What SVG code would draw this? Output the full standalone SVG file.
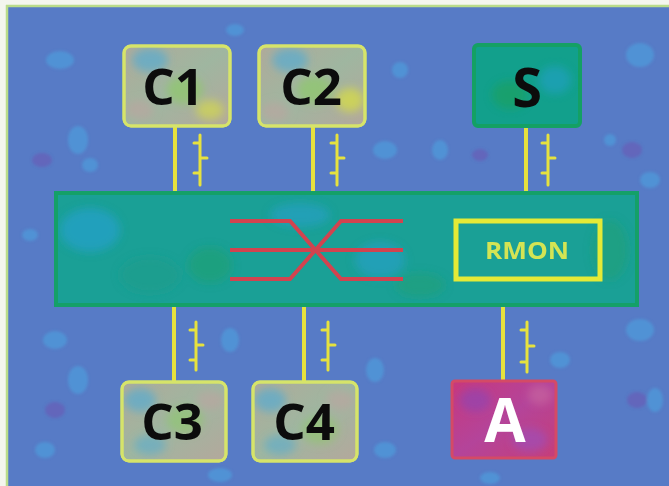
<svg xmlns="http://www.w3.org/2000/svg" width="669" height="486" viewBox="0 0 669 486">
  <defs>
    <style>
      .lbl { font-family: "Open Sans", "Liberation Sans", sans-serif; font-weight: bold; text-anchor: middle; }
      .cbox { stroke: #d6e46a; stroke-width: 3; }
      .link { stroke: #e6e23e; stroke-width: 4; fill: none; }
      .sym { stroke: #e6e23e; stroke-width: 3; fill: none; stroke-linecap: round; }
      .cross { stroke: #d2434f; stroke-width: 4; fill: none; }
      .blob { fill: #4aa6e2; opacity: 0.55; }
      .pblob { fill: #6a58b4; opacity: 0.6; }
    </style>
    <filter id="soft" x="-50%" y="-50%" width="200%" height="200%">
      <feGaussianBlur stdDeviation="4"/>
    </filter>
    <filter id="soft2" x="-50%" y="-50%" width="200%" height="200%">
      <feGaussianBlur stdDeviation="1.5"/>
    </filter>
    <linearGradient id="cfill" x1="0" y1="0" x2="1" y2="1">
      <stop offset="0" stop-color="#b0aa9a"/>
      <stop offset="0.5" stop-color="#9fb6a0"/>
      <stop offset="1" stop-color="#b4a89c"/>
    </linearGradient>
    <linearGradient id="afill" x1="0" y1="0" x2="1" y2="1">
      <stop offset="0" stop-color="#c8387c"/>
      <stop offset="0.5" stop-color="#b4449a"/>
      <stop offset="1" stop-color="#c63e78"/>
    </linearGradient>
    <clipPath id="clipC1"><rect x="124" y="46" width="106" height="80" rx="7"/></clipPath>
    <clipPath id="clipC2"><rect x="259" y="46" width="106" height="80" rx="7"/></clipPath>
    <clipPath id="clipC3"><rect x="122" y="382" width="104" height="79" rx="7"/></clipPath>
    <clipPath id="clipC4"><rect x="253" y="382" width="104" height="79" rx="7"/></clipPath>
    <clipPath id="clipA"><rect x="452" y="381" width="104" height="77" rx="3"/></clipPath>
    <clipPath id="clipBar"><rect x="56" y="193" width="581" height="112"/></clipPath>
  </defs>

  <!-- background -->
  <rect x="0" y="0" width="669" height="486" fill="#f4f6ee"/>
  <rect x="6" y="5" width="663" height="481" fill="#577bc6"/>
  <line x1="6" y1="6" x2="669" y2="6" stroke="#b9dc8a" stroke-width="2.5"/>
  <line x1="7" y1="5" x2="7" y2="486" stroke="#b9dc8a" stroke-width="2.5"/>
  <g id="texture" filter="url(#soft2)">
    <ellipse class="blob" cx="60" cy="60" rx="14" ry="9"/>
    <ellipse class="blob" cx="78" cy="140" rx="10" ry="14"/>
    <ellipse class="blob" cx="90" cy="165" rx="8" ry="7"/>
    <ellipse class="blob" cx="235" cy="30" rx="9" ry="6"/>
    <ellipse class="blob" cx="400" cy="70" rx="8" ry="8"/>
    <ellipse class="blob" cx="385" cy="150" rx="12" ry="9"/>
    <ellipse class="blob" cx="440" cy="150" rx="8" ry="10"/>
    <ellipse class="blob" cx="640" cy="55" rx="14" ry="12"/>
    <ellipse class="blob" cx="650" cy="180" rx="10" ry="8"/>
    <ellipse class="blob" cx="610" cy="140" rx="6" ry="6"/>
    <ellipse class="blob" cx="55" cy="340" rx="12" ry="9"/>
    <ellipse class="blob" cx="78" cy="380" rx="10" ry="14"/>
    <ellipse class="blob" cx="230" cy="340" rx="9" ry="12"/>
    <ellipse class="blob" cx="375" cy="370" rx="9" ry="12"/>
    <ellipse class="blob" cx="385" cy="450" rx="11" ry="8"/>
    <ellipse class="blob" cx="640" cy="330" rx="14" ry="11"/>
    <ellipse class="blob" cx="655" cy="400" rx="8" ry="12"/>
    <ellipse class="blob" cx="560" cy="360" rx="10" ry="8"/>
    <ellipse class="blob" cx="45" cy="450" rx="10" ry="8"/>
    <ellipse class="blob" cx="220" cy="475" rx="12" ry="7"/>
    <ellipse class="blob" cx="490" cy="478" rx="10" ry="6"/>
    <ellipse class="blob" cx="30" cy="235" rx="8" ry="6"/>
    <ellipse class="pblob" cx="42" cy="160" rx="10" ry="7"/>
    <ellipse class="pblob" cx="632" cy="150" rx="10" ry="8"/>
    <ellipse class="pblob" cx="55" cy="410" rx="10" ry="8"/>
    <ellipse class="pblob" cx="637" cy="400" rx="10" ry="8"/>
    <ellipse class="pblob" cx="480" cy="155" rx="8" ry="6"/>
  </g>

  <!-- connectors -->
  <g id="connectors">
    <line class="link" x1="175" y1="126" x2="175" y2="194"/>
    <line class="link" x1="313" y1="126" x2="313" y2="194"/>
    <line class="link" x1="526" y1="126" x2="526" y2="194"/>
    <line class="link" x1="174" y1="304" x2="174" y2="382"/>
    <line class="link" x1="304" y1="304" x2="304" y2="382"/>
    <line class="link" x1="503" y1="304" x2="503" y2="381"/>
    <path class="sym" d="M200,135 V185 M194,143 H200 M200,158 H207 M194,173 H200"/>
    <path class="sym" d="M337,135 V185 M331,143 H337 M337,158 H344 M331,173 H337"/>
    <path class="sym" d="M548,135 V185 M542,143 H548 M548,158 H555 M542,173 H548"/>
    <path class="sym" d="M196,322 V370 M190,330 H196 M196,345 H203 M190,360 H196"/>
    <path class="sym" d="M328,322 V370 M322,330 H328 M328,345 H335 M322,360 H328"/>
    <path class="sym" d="M527,322 V372 M521,330 H527 M527,346 H534 M521,362 H527"/>
  </g>

  <!-- switch bar -->
  <g id="switch">
    <rect x="56" y="193" width="581" height="112" fill="#1aa096"/>
    <g clip-path="url(#clipBar)" filter="url(#soft)">
      <ellipse cx="90" cy="230" rx="30" ry="22" fill="#2aa0d6" opacity="0.6"/>
      <ellipse cx="150" cy="275" rx="30" ry="18" fill="#1e9c8a" opacity="0.6"/>
      <ellipse cx="210" cy="265" rx="22" ry="18" fill="#22a070" opacity="0.6"/>
      <ellipse cx="380" cy="260" rx="25" ry="18" fill="#2aa0d6" opacity="0.5"/>
      <ellipse cx="420" cy="285" rx="25" ry="12" fill="#22a070" opacity="0.5"/>
      <ellipse cx="610" cy="250" rx="18" ry="30" fill="#22a070" opacity="0.5"/>
      <ellipse cx="300" cy="215" rx="30" ry="12" fill="#2aa0d6" opacity="0.5"/>
    </g>
    <rect x="56" y="193" width="581" height="112" fill="none" stroke="#14a068" stroke-width="4"/>
    <path class="cross" d="M230,221 H290 L341,279 H403"/>
    <path class="cross" d="M230,279 H290 L341,221 H403"/>
    <path class="cross" d="M230,250 H403"/>
  </g>

  <!-- RMON -->
  <g id="rmon">
    <rect x="456" y="221" width="144" height="58" fill="none" stroke="#e4ea36" stroke-width="5"/>
    <text class="lbl" x="527" y="259" font-size="24" font-weight="600" fill="#d4e454" textLength="84" lengthAdjust="spacingAndGlyphs">RMON</text>
  </g>

  <!-- C1 -->
  <g id="C1">
    <rect class="cbox" x="124" y="46" width="106" height="80" rx="7" fill="url(#cfill)"/>
    <g clip-path="url(#clipC1)" filter="url(#soft)">
      <ellipse cx="150" cy="60" rx="18" ry="12" fill="#4aaad8" opacity="0.6"/>
      <ellipse cx="185" cy="90" rx="18" ry="14" fill="#8ccc60" opacity="0.6"/>
      <ellipse cx="210" cy="110" rx="14" ry="10" fill="#d8e040" opacity="0.6"/>
      <ellipse cx="140" cy="110" rx="14" ry="10" fill="#c4a0a0" opacity="0.5"/>
    </g>
    <rect class="cbox" x="124" y="46" width="106" height="80" rx="7" fill="none"/>
    <text class="lbl" x="173" y="105" font-size="51" fill="#0c0c0c">C1</text>
  </g>

  <!-- C2 -->
  <g id="C2">
    <rect class="cbox" x="259" y="46" width="106" height="80" rx="7" fill="url(#cfill)"/>
    <g clip-path="url(#clipC2)" filter="url(#soft)">
      <ellipse cx="290" cy="60" rx="18" ry="12" fill="#4aaad8" opacity="0.6"/>
      <ellipse cx="315" cy="90" rx="18" ry="14" fill="#8ccc60" opacity="0.6"/>
      <ellipse cx="350" cy="100" rx="14" ry="12" fill="#d8e040" opacity="0.7"/>
      <ellipse cx="275" cy="112" rx="14" ry="10" fill="#c4a0a0" opacity="0.5"/>
    </g>
    <rect class="cbox" x="259" y="46" width="106" height="80" rx="7" fill="none"/>
    <text class="lbl" x="311" y="105" font-size="51" fill="#0c0c0c">C2</text>
  </g>

  <!-- S -->
  <g id="S">
    <rect x="474" y="45" width="106" height="81" rx="4" fill="#12a08c" stroke="#14a064" stroke-width="4"/>
    <ellipse cx="510" cy="95" rx="18" ry="14" fill="#1ea05a" opacity="0.6" filter="url(#soft)"/>
    <ellipse cx="555" cy="80" rx="16" ry="14" fill="#22a0c8" opacity="0.6" filter="url(#soft)"/>
    <text class="lbl" x="527" y="107" font-size="54" fill="#0c0c0c">S</text>
  </g>

  <!-- C3 -->
  <g id="C3">
    <rect class="cbox" x="122" y="382" width="104" height="79" rx="7" fill="url(#cfill)"/>
    <g clip-path="url(#clipC3)" filter="url(#soft)">
      <ellipse cx="140" cy="400" rx="16" ry="12" fill="#4aaad8" opacity="0.6"/>
      <ellipse cx="185" cy="420" rx="18" ry="14" fill="#8ccc60" opacity="0.5"/>
      <ellipse cx="150" cy="445" rx="16" ry="10" fill="#4aaad8" opacity="0.5"/>
      <ellipse cx="210" cy="400" rx="14" ry="10" fill="#c4a0a0" opacity="0.5"/>
    </g>
    <rect class="cbox" x="122" y="382" width="104" height="79" rx="7" fill="none"/>
    <text class="lbl" x="172" y="440" font-size="51" fill="#0c0c0c">C3</text>
  </g>

  <!-- C4 -->
  <g id="C4">
    <rect class="cbox" x="253" y="382" width="104" height="79" rx="7" fill="url(#cfill)"/>
    <g clip-path="url(#clipC4)" filter="url(#soft)">
      <ellipse cx="270" cy="400" rx="16" ry="12" fill="#4aaad8" opacity="0.6"/>
      <ellipse cx="320" cy="430" rx="18" ry="14" fill="#8ccc60" opacity="0.5"/>
      <ellipse cx="280" cy="445" rx="16" ry="10" fill="#4aaad8" opacity="0.5"/>
      <ellipse cx="340" cy="400" rx="14" ry="10" fill="#c4a0a0" opacity="0.5"/>
    </g>
    <rect class="cbox" x="253" y="382" width="104" height="79" rx="7" fill="none"/>
    <text class="lbl" x="304" y="440" font-size="51" fill="#0c0c0c">C4</text>
  </g>

  <!-- A -->
  <g id="A">
    <rect x="452" y="381" width="104" height="77" rx="3" fill="url(#afill)"/>
    <g clip-path="url(#clipA)" filter="url(#soft)">
      <ellipse cx="475" cy="400" rx="16" ry="12" fill="#8a44b8" opacity="0.6"/>
      <ellipse cx="530" cy="440" rx="18" ry="12" fill="#9a50c0" opacity="0.6"/>
      <ellipse cx="540" cy="395" rx="12" ry="10" fill="#d070a0" opacity="0.5"/>
    </g>
    <rect x="452" y="381" width="104" height="77" rx="3" fill="none" stroke="#d44a66" stroke-width="3"/>
    <text class="lbl" x="505" y="442" font-size="60" fill="#ffffff">A</text>
  </g>
</svg>
